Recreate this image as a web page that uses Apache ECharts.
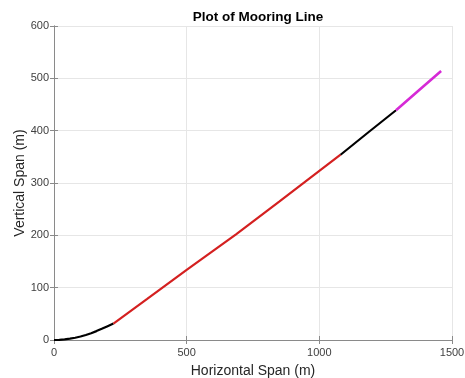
<!DOCTYPE html>
<html>
<head>
<meta charset="utf-8">
<script src="https://cdn.jsdelivr.net/npm/echarts@6/dist/echarts.min.js"></script>
<style>
  html, body { margin: 0; padding: 0; background: #fff; }
  #chart { width: 465px; height: 378px; }
</style>
</head>
<body>
<div id="chart"></div>
<script>
// Mooring line profile, split into its segments: [horizontal span, vertical span] in metres
var bottomChain = [[0, 0], [20, 0.4], [40, 1.3], [60, 2.6], [80, 4.3], [100, 6.6], [120, 9.6],
                   [140, 13], [160, 17], [180, 21.3], [200, 26], [224, 31.5]];
var wireRope = [[224, 31.5], [350, 78], [500, 134], [686, 202], [850, 265], [1000, 323], [1080, 354]];
var upperChain = [[1080, 354], [1185, 397], [1289, 439]];
var topSegment = [[1289, 439], [1370, 475], [1459, 514]];

var xTicks = [0, 500, 1000, 1500];
var yTicks = [0, 100, 200, 300, 400, 500, 600];

var FONT = '"Liberation Sans", Arial, Helvetica, sans-serif';
var AXIS_COLOR = '#8a8a8a';
var GRID_COLOR = '#e6e6e6';
var LABEL_COLOR = '#404040';

function plain(v) { return String(v); }

function segment(name, data, color, width) {
  return {
    name: name,
    type: 'line',
    data: data,
    showSymbol: false,
    symbol: 'none',
    smooth: false,
    lineStyle: { color: color, width: width },
    xAxisIndex: 0,
    yAxisIndex: 0,
    z: 3
  };
}

var chart = echarts.init(document.getElementById('chart'), null, { renderer: 'canvas' });

chart.setOption({
  animation: false,
  backgroundColor: '#ffffff',
  title: {
    text: 'Plot of Mooring Line',
    left: 253,
    textAlign: 'center',
    top: 5,
    textStyle: { fontFamily: FONT, fontSize: 13.5, fontWeight: 'bold', color: '#000' }
  },
  grid: { left: 54, right: 13, top: 26, bottom: 38, containLabel: false, outerBoundsMode: 'none' },
  xAxis: [
    {
      type: 'value',
      min: xTicks[0],
      max: xTicks[xTicks.length - 1],
      interval: 500,
      position: 'bottom',
      name: 'Horizontal Span (m)',
      nameLocation: 'middle',
      nameGap: 24,
      nameMoveOverlap: false,
      nameTextStyle: { fontFamily: FONT, fontSize: 14, color: '#262626' },
      axisLine: { show: true, lineStyle: { color: AXIS_COLOR, width: 1 } },
      axisTick: { show: true, inside: true, length: 4, lineStyle: { color: AXIS_COLOR } },
      axisLabel: { fontFamily: FONT, fontSize: 11, color: LABEL_COLOR, margin: 7, formatter: plain },
      splitLine: { show: true, lineStyle: { color: GRID_COLOR, width: 1 } }
    },
    {
      type: 'value',
      min: xTicks[0],
      max: xTicks[xTicks.length - 1],
      interval: 500,
      position: 'top',
      axisLine: { show: true, lineStyle: { color: AXIS_COLOR, width: 1 } },
      axisTick: { show: true, inside: true, length: 4, lineStyle: { color: AXIS_COLOR } },
      axisLabel: { show: false },
      splitLine: { show: false }
    }
  ],
  yAxis: [
    {
      type: 'value',
      min: yTicks[0],
      max: yTicks[yTicks.length - 1],
      interval: 100,
      position: 'left',
      name: 'Vertical Span (m)',
      nameLocation: 'middle',
      nameGap: 27,
      nameMoveOverlap: false,
      nameTextStyle: { fontFamily: FONT, fontSize: 14, color: '#262626' },
      axisLine: { show: true, lineStyle: { color: AXIS_COLOR, width: 1 } },
      axisTick: { show: true, inside: true, length: 4, lineStyle: { color: AXIS_COLOR } },
      axisLabel: { fontFamily: FONT, fontSize: 11, color: LABEL_COLOR, margin: 5, formatter: plain },
      splitLine: { show: true, lineStyle: { color: GRID_COLOR, width: 1 } }
    },
    {
      type: 'value',
      min: yTicks[0],
      max: yTicks[yTicks.length - 1],
      interval: 100,
      position: 'right',
      axisLine: { show: true, lineStyle: { color: AXIS_COLOR, width: 1 } },
      axisTick: { show: true, inside: true, length: 4, lineStyle: { color: AXIS_COLOR } },
      axisLabel: { show: false },
      splitLine: { show: false }
    }
  ],
  series: [
    segment('Bottom chain', bottomChain, '#000000', 2.2),
    segment('Wire rope', wireRope, '#d42020', 2.2),
    segment('Upper chain', upperChain, '#000000', 2.2),
    segment('Top segment', topSegment, '#d62ad6', 2.6)
  ]
});
</script>
</body>
</html>
